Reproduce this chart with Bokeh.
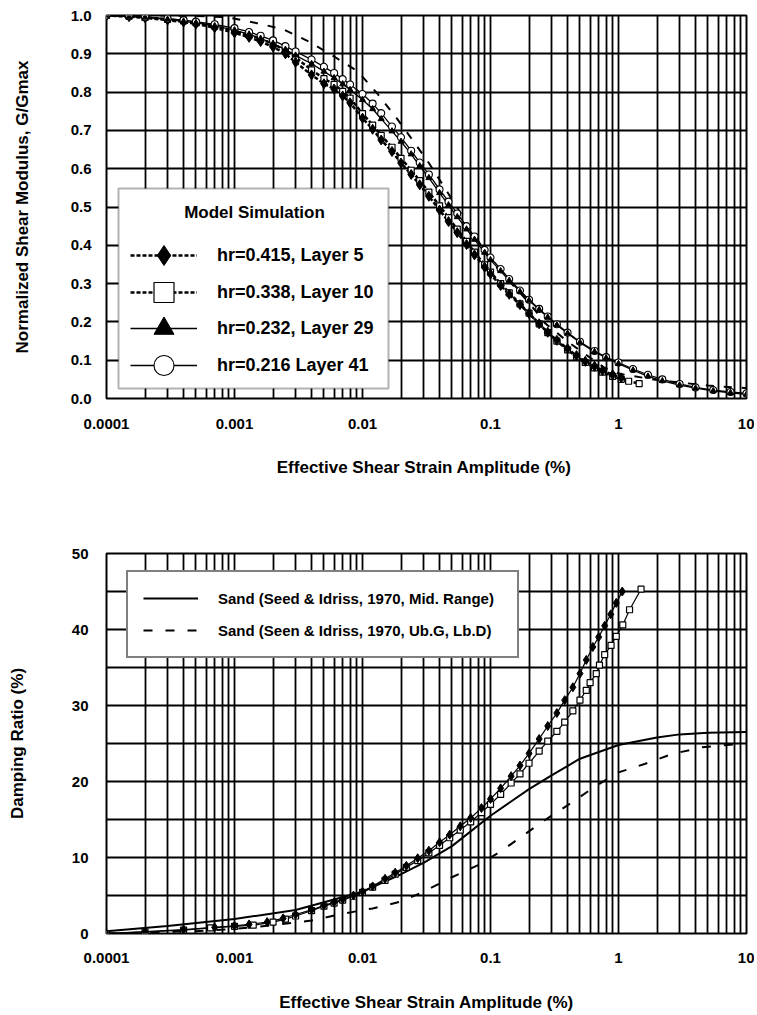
from bokeh.plotting import figure
from bokeh.models import (Range1d, FixedTicker, NumeralTickFormatter, Legend, LegendItem,
                          BoxAnnotation, Label)
from bokeh.layouts import column
from bokeh.embed import file_html
from bokeh.resources import INLINE

FONT = "Liberation Sans"

# ---------------- data: top chart (normalized shear modulus) ----------------
x_tick_values = [0.0001, 0.001, 0.01, 0.1, 1, 10]
g_tick_values = [0.0, 0.1, 0.2, 0.3, 0.4, 0.5, 0.6, 0.7, 0.8, 0.9, 1.0]

strain_l5 = [0.0001, 0.00015, 0.0002, 0.0003, 0.0004, 0.0005, 0.0007, 0.001, 0.0013, 0.0016,
             0.002, 0.0025, 0.003, 0.004, 0.005, 0.006, 0.007, 0.008, 0.01, 0.012,
             0.014, 0.017, 0.02, 0.024, 0.028, 0.033, 0.04, 0.047, 0.055, 0.065,
             0.075, 0.09, 0.1, 0.12, 0.14, 0.17, 0.2, 0.24, 0.28, 0.33,
             0.4, 0.47, 0.55, 0.65, 0.75, 0.9, 1.05]
g_l5 = [1.0, 0.997, 0.994, 0.988, 0.983, 0.978, 0.968, 0.955, 0.943, 0.932,
        0.918, 0.9, 0.878, 0.845, 0.822, 0.808, 0.79, 0.772, 0.732, 0.703,
        0.675, 0.645, 0.615, 0.585, 0.558, 0.528, 0.492, 0.462, 0.433, 0.402,
        0.375, 0.343, 0.325, 0.295, 0.272, 0.245, 0.222, 0.195, 0.173, 0.152,
        0.13, 0.112, 0.097, 0.084, 0.073, 0.062, 0.054]

strain_l10 = [0.0001, 0.00015, 0.0002, 0.0003, 0.0004, 0.0005, 0.0007, 0.001, 0.0013, 0.0016,
              0.002, 0.0025, 0.003, 0.004, 0.005, 0.006, 0.007, 0.008, 0.01, 0.012,
              0.014, 0.017, 0.02, 0.024, 0.028, 0.033, 0.04, 0.047, 0.055, 0.065,
              0.075, 0.09, 0.1, 0.12, 0.14, 0.17, 0.2, 0.24, 0.28, 0.33,
              0.4, 0.47, 0.55, 0.65, 0.75, 0.9, 1.05, 1.2, 1.45]
g_l10 = [1.0, 0.998, 0.995, 0.99, 0.986, 0.981, 0.972, 0.96, 0.949, 0.939,
         0.926, 0.909, 0.89, 0.858, 0.835, 0.82, 0.802, 0.784, 0.744, 0.714,
         0.687, 0.656, 0.627, 0.596, 0.569, 0.539, 0.503, 0.472, 0.442, 0.41,
         0.382, 0.349, 0.33, 0.3, 0.276, 0.247, 0.223, 0.195, 0.172, 0.15,
         0.127, 0.109, 0.094, 0.08, 0.069, 0.058, 0.05, 0.045, 0.039]

strain_l29 = [0.0001, 0.00015, 0.0002, 0.0003, 0.0004, 0.0005, 0.0007, 0.001, 0.0013, 0.0016,
              0.002, 0.0025, 0.003, 0.004, 0.005, 0.006, 0.007, 0.008, 0.01, 0.012,
              0.014, 0.017, 0.02, 0.024, 0.028, 0.033, 0.04, 0.047, 0.055, 0.065,
              0.075, 0.09, 0.1, 0.12, 0.14, 0.17, 0.2, 0.24, 0.28, 0.33,
              0.4, 0.5, 0.65, 0.8, 1.0, 1.3, 1.7, 2.2, 3.0, 4.0, 5.5, 7.5, 10.0]
g_l29 = [1.0, 0.997, 0.995, 0.99, 0.985, 0.981, 0.973, 0.962, 0.951, 0.94,
         0.927, 0.911, 0.896, 0.874, 0.854, 0.837, 0.821, 0.806, 0.78, 0.756,
         0.73, 0.698, 0.671, 0.638, 0.607, 0.576, 0.537, 0.505, 0.474, 0.442,
         0.415, 0.381, 0.362, 0.333, 0.308, 0.279, 0.256, 0.232, 0.212, 0.192,
         0.17, 0.146, 0.122, 0.106, 0.091, 0.074, 0.058, 0.046, 0.035, 0.027, 0.02, 0.015, 0.011]

strain_l41 = [0.0001, 0.00015, 0.0002, 0.0003, 0.0004, 0.0005, 0.0007, 0.001, 0.0013, 0.0016,
              0.002, 0.0025, 0.003, 0.004, 0.005, 0.006, 0.007, 0.008, 0.01, 0.012,
              0.014, 0.017, 0.02, 0.024, 0.028, 0.033, 0.04, 0.047, 0.055, 0.065,
              0.075, 0.09, 0.1, 0.12, 0.14, 0.17, 0.2, 0.24, 0.28, 0.33,
              0.4, 0.5, 0.65, 0.8, 1.0, 1.3, 1.7, 2.2, 3.0, 4.0, 5.5, 7.5, 10.0]
g_l41 = [1.0, 0.998, 0.996, 0.992, 0.988, 0.984, 0.977, 0.967, 0.957, 0.947,
         0.935, 0.92, 0.906, 0.885, 0.866, 0.85, 0.834, 0.82, 0.795, 0.77,
         0.745, 0.71, 0.682, 0.647, 0.616, 0.585, 0.546, 0.514, 0.483, 0.45,
         0.423, 0.388, 0.368, 0.338, 0.312, 0.282, 0.258, 0.234, 0.214, 0.194,
         0.172, 0.148, 0.124, 0.108, 0.094, 0.077, 0.062, 0.05, 0.038, 0.029, 0.022, 0.017, 0.013]

strain_ub_top = [0.0001, 0.0003, 0.0006, 0.0009, 0.0015, 0.0024, 0.0038, 0.006, 0.0092, 0.013,
                 0.018, 0.024, 0.033, 0.05, 0.1, 0.2, 0.27, 0.41, 0.77, 1.0, 2.0, 5.0, 8.0, 10.0]
g_ub_top = [1.0, 1.0, 0.998, 0.995, 0.98, 0.964, 0.932, 0.893, 0.854, 0.797,
            0.737, 0.68, 0.615, 0.52, 0.36, 0.25, 0.195, 0.146, 0.081, 0.065, 0.048, 0.034, 0.029, 0.027]

model_title = "Model Simulation"
model_labels = ["hr=0.415, Layer 5", "hr=0.338, Layer 10", "hr=0.232, Layer 29", "hr=0.216 Layer 41"]

# ---------------- data: bottom chart (damping ratio) ----------------
d_tick_values = [0, 10, 20, 30, 40, 50]

strain_d5 = [0.0001, 0.0002, 0.0004, 0.0007, 0.001, 0.0013, 0.0018, 0.0024, 0.003, 0.004,
             0.005, 0.006, 0.007, 0.0085, 0.01, 0.012, 0.015, 0.018, 0.022, 0.027,
             0.033, 0.04, 0.048, 0.058, 0.07, 0.085, 0.1, 0.12, 0.145, 0.17,
             0.2, 0.24, 0.28, 0.33, 0.38, 0.44, 0.5, 0.56, 0.63, 0.7,
             0.78, 0.87, 0.96, 1.07]
damp_d5 = [0, 0.25, 0.5, 0.8, 1.0, 1.2, 1.5, 2.0, 2.5, 3.1,
           3.7, 4.1, 4.5, 5.0, 5.5, 6.2, 7.2, 8.0, 8.9, 9.9,
           10.9, 12.0, 13.0, 14.1, 15.2, 16.5, 17.7, 19.1, 20.7, 22.1,
           23.7, 25.6, 27.3, 29.0, 30.7, 32.4, 34.2, 36.0, 37.7, 39.0,
           40.5, 42.0, 43.5, 45.0]

strain_d10 = [0.0001, 0.0002, 0.0004, 0.00065, 0.001, 0.0014, 0.002, 0.0025, 0.003, 0.004,
              0.005, 0.006, 0.007, 0.0085, 0.01, 0.012, 0.015, 0.018, 0.022, 0.027,
              0.033, 0.04, 0.048, 0.058, 0.07, 0.085, 0.1, 0.12, 0.145, 0.17,
              0.2, 0.24, 0.28, 0.33, 0.38, 0.44, 0.5, 0.56, 0.6, 0.67,
              0.71, 0.78, 0.875, 0.96, 1.08, 1.22, 1.5]
damp_d10 = [0, 0.2, 0.45, 0.75, 0.95, 1.1, 1.5, 1.9, 2.3, 3.0,
            3.6, 4.0, 4.4, 4.9, 5.4, 6.1, 7.0, 7.8, 8.7, 9.6,
            10.6, 11.6, 12.6, 13.6, 14.7, 15.9, 17.0, 18.3, 19.8, 21.0,
            22.4, 24.0, 25.3, 26.6, 27.8, 29.3, 30.7, 32.0, 33.0, 34.2,
            35.3, 36.7, 37.9, 39.1, 40.6, 42.6, 45.3]

strain_mid = [0.0001, 0.0003, 0.001, 0.003, 0.01, 0.02, 0.03, 0.05, 0.1, 0.2,
              0.3, 0.5, 1.0, 2.0, 3.0, 5.0, 10.0]
damp_mid = [0.3, 1.0, 1.9, 3.1, 5.5, 7.8, 9.3, 11.5, 15.5, 19.0,
            20.8, 23.0, 24.8, 25.8, 26.2, 26.4, 26.5]

strain_ub = [0.0001, 0.0005, 0.001, 0.002, 0.004, 0.007, 0.012, 0.02, 0.03, 0.05,
             0.08, 0.12, 0.18, 0.27, 0.42, 0.65, 1.0, 1.6, 2.6, 4.5, 8.0, 10.0]
damp_ub = [0, 0.3, 0.6, 1.1, 1.7, 2.6, 3.3, 4.2, 5.5, 7.4,
           9.0, 10.8, 12.9, 15.0, 17.1, 19.3, 21.2, 22.3, 23.6, 24.5, 24.9, 25.0]

sand_labels = ["Sand (Seed & Idriss, 1970, Mid. Range)", "Sand (Seen & Idriss, 1970, Ub.G, Lb.D)"]

x_title_top = "Effective Shear Strain  Amplitude (%)"
x_title_bottom = "Effective Shear Strain Amplitude (%)"
y_title_top = "Normalized Shear Modulus, G/Gmax"
y_title_bottom = "Damping Ratio (%)"

# vertical grid lines at 1..9 of every decade
grid_x = [m * 10.0 ** e for e in range(-4, 1) for m in range(1, 10)] + [10.0]


def style(p, xt, yt, ytick, ygrid, yfmt, tick_stand, title_stand_x, ytick_stand, title_stand_y):
    p.background_fill_color = "white"
    p.border_fill_color = "white"
    p.outline_line_color = "black"
    p.outline_line_width = 2
    p.xaxis.ticker = FixedTicker(ticks=x_tick_values)
    p.xaxis.formatter = NumeralTickFormatter(format="0.[0000]")
    p.yaxis.ticker = FixedTicker(ticks=ytick)
    p.yaxis.formatter = NumeralTickFormatter(format=yfmt)
    p.xgrid.ticker = FixedTicker(ticks=grid_x)
    p.ygrid.ticker = FixedTicker(ticks=ygrid)
    for g in (p.xgrid, p.ygrid):
        g.grid_line_color = "black"
        g.grid_line_width = 1.8
    for ax in p.axis:
        ax.axis_line_color = None
        ax.major_tick_line_color = None
        ax.minor_tick_line_color = None
        ax.major_label_text_font = FONT
        ax.major_label_text_font_style = "bold"
        ax.major_label_text_font_size = "15px"
        ax.major_label_text_color = "black"
        ax.axis_label_text_font = FONT
        ax.axis_label_text_font_style = "bold"
        ax.axis_label_text_font_size = "17px"
        ax.axis_label_text_color = "black"
    p.xaxis.axis_label = xt
    p.yaxis.axis_label = yt
    p.xaxis.major_label_standoff = tick_stand
    p.xaxis.axis_label_standoff = title_stand_x
    p.yaxis.major_label_standoff = ytick_stand
    p.yaxis.axis_label_standoff = title_stand_y


# ---------------- top figure ----------------
p1 = figure(frame_width=640, frame_height=383, x_axis_type="log",
            x_range=Range1d(0.0001, 10), y_range=Range1d(0, 1),
            min_border_left=106, min_border_right=8, min_border_top=15, min_border_bottom=135,
            output_backend="svg", toolbar_location=None)
style(p1, x_title_top, y_title_top, g_tick_values, g_tick_values, "0.0", 14, 26, 9, 36)

p1.line(strain_ub_top, g_ub_top, line_color="black", line_width=2, line_dash="8 10")

r5l = p1.line(strain_l5, g_l5, line_color="black", line_width=2.5, line_dash="4 2")
r10l = p1.line(strain_l10, g_l10, line_color="black", line_width=2.5, line_dash="4 2")
r29l = p1.line(strain_l29, g_l29, line_color="black", line_width=1.3)
r41l = p1.line(strain_l41, g_l41, line_color="black", line_width=1.3)
r10s = p1.scatter(strain_l10, g_l10, marker="square", size=6, fill_color="white",
                  line_color="black", line_width=1.2)
r5s = p1.scatter(strain_l5, g_l5, marker="diamond", size=10, fill_color="black", line_color="black")
r41s = p1.scatter(strain_l41, g_l41, marker="circle", size=7, fill_color="white",
                  line_color="black", line_width=1.1)
r29s = p1.scatter(strain_l29, g_l29, marker="triangle", size=6, fill_color="black", line_color="black")

# legend frame and title
p1.add_layout(BoxAnnotation(left=12, right=282, bottom=10, top=210,
                            left_units="screen", right_units="screen",
                            bottom_units="screen", top_units="screen",
                            fill_color="white", fill_alpha=1.0,
                            line_color="black", line_width=2))
p1.add_layout(Label(x=148, y=186, x_units="screen", y_units="screen", text=model_title,
                    text_font=FONT, text_font_style="bold", text_font_size="17px",
                    text_align="center", text_baseline="middle", text_color="black"))

item_renderers = [[r5l, r5s], [r10l, r10s], [r29l, r29s], [r41l, r41s]]
item_bottoms = [118, 81, 45, 8]   # screen offsets of each legend row (layout only)
for lab, rends, yb in zip(model_labels, item_renderers, item_bottoms):
    lg = Legend(items=[LegendItem(label=lab, renderers=rends)],
                location=(24, yb), padding=0, margin=0, spacing=0,
                glyph_width=67, glyph_height=50, label_height=50, label_standoff=20,
                label_text_font=FONT, label_text_font_style="bold", label_text_font_size="18px",
                label_text_color="black",
                border_line_color=None, background_fill_alpha=0.0)
    p1.add_layout(lg)

# ---------------- bottom figure ----------------
p2 = figure(frame_width=640, frame_height=380, x_axis_type="log",
            x_range=Range1d(0.0001, 10), y_range=Range1d(0, 50),
            min_border_left=103, min_border_right=11, min_border_top=20, min_border_bottom=80,
            output_backend="svg", toolbar_location=None)
style(p2, x_title_bottom, y_title_bottom, d_tick_values, list(range(0, 51, 5)), "0", 13, 27, 12, 42)

rmid = p2.line(strain_mid, damp_mid, line_color="black", line_width=2)
rub = p2.line(strain_ub, damp_ub, line_color="black", line_width=2, line_dash="9 13")
p2.line(strain_d10, damp_d10, line_color="black", line_width=1.2)
p2.line(strain_d5, damp_d5, line_color="black", line_width=1.2)
p2.scatter(strain_d10, damp_d10, marker="square", size=6, fill_color="white",
           line_color="black", line_width=1.2)
p2.scatter(strain_d5, damp_d5, marker="diamond", size=9, fill_color="black", line_color="black")

leg2 = Legend(items=[LegendItem(label=sand_labels[0], renderers=[rmid]),
                     LegendItem(label=sand_labels[1], renderers=[rub])],
              location=(20, 275), padding=15, margin=0, spacing=10,
              glyph_width=55, glyph_height=22, label_height=22, label_standoff=20,
              label_width=284,
              label_text_font=FONT, label_text_font_style="bold", label_text_font_size="15px",
              label_text_color="black",
              border_line_color="black", border_line_width=2,
              background_fill_color="white", background_fill_alpha=1.0)
p2.add_layout(leg2)

layout = column(p1, p2, spacing=0)
open("out.html", "w").write(file_html(layout, INLINE))
